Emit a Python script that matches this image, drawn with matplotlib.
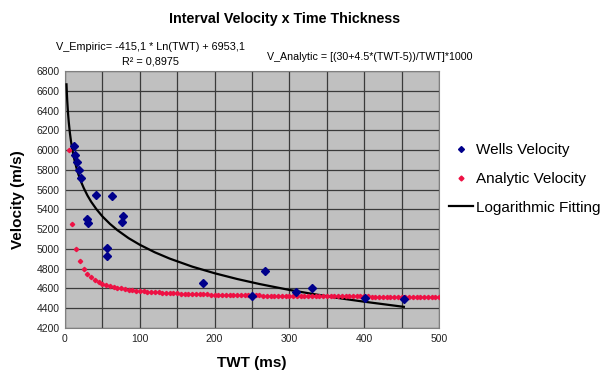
import numpy as np
import matplotlib.pyplot as plt
from matplotlib.lines import Line2D

plt.rcParams['font.family'] = ['Liberation Sans', 'DejaVu Sans']

# wells data (TWT ms, velocity m/s)
wells_twt = [12.0, 13.4, 15.6, 18.7, 21.0, 29.4, 31.2, 41.4, 56.0, 56.5, 62.4,
             75.8, 78.0, 185, 250, 267, 309, 330, 401, 453]
wells_vel = [6041, 5950, 5882, 5798, 5714, 5303, 5259, 5545, 5005, 4928, 5535,
             5269, 5336, 4658, 4524, 4780, 4561, 4608, 4500, 4490]

# analytic velocity, TWT = 5..500 step 5
analytic_twt = list(range(5, 505, 5))
analytic_vel = [6000, 5250, 5000, 4875, 4800, 4750, 4714, 4688, 4667, 4650,
                4636, 4625, 4615, 4607, 4600, 4594, 4588, 4583, 4579, 4575,
                4571, 4568, 4565, 4563, 4560, 4558, 4556, 4554, 4552, 4550,
                4548, 4547, 4545, 4544, 4543, 4542, 4541, 4539, 4538, 4538,
                4537, 4536, 4535, 4534, 4533, 4533, 4532, 4531, 4531, 4530,
                4529, 4529, 4528, 4528, 4527, 4527, 4526, 4526, 4525, 4525,
                4525, 4524, 4524, 4523, 4523, 4523, 4522, 4522, 4522, 4521,
                4521, 4521, 4521, 4520, 4520, 4520, 4519, 4519, 4519, 4519,
                4519, 4518, 4518, 4518, 4518, 4517, 4517, 4517, 4517, 4517,
                4516, 4516, 4516, 4516, 4516, 4516, 4515, 4515, 4515, 4515]

# logarithmic trendline
fit_twt = [2, 2.5, 3, 4, 5, 6.5, 8, 10, 12, 15, 18, 22, 25, 30, 35, 42, 50, 60,
           70, 85, 100, 120, 140, 170, 200, 230, 260, 300, 330, 370, 400, 453]
fit_vel = [6665, 6573, 6497, 6378, 6285, 6176, 6090, 5997, 5922, 5829, 5753,
           5670, 5617, 5541, 5477, 5402, 5329, 5254, 5190, 5109, 5042, 4966,
           4902, 4821, 4754, 4696, 4645, 4585, 4546, 4498, 4466, 4414]

fig = plt.figure(figsize=(6.04, 3.70), dpi=100)
ax = fig.add_axes([65/604, 42/370, 374/604, 257/370])
ax.set_facecolor('#c0c0c0')

ax.plot(fit_twt, fit_vel, color='black', lw=1.6, zorder=3)
ax.plot(analytic_twt, analytic_vel, ls='none', marker='D', ms=2.2,
        color='#ee1144', mec='#ee1144', zorder=4)
ax.plot(wells_twt, wells_vel, ls='none', marker='D', ms=3.6,
        color='#00008b', zorder=5)

ax.set_xlim(0, 500)
ax.set_ylim(4200, 6800)
ax.set_xticks(np.arange(0, 501, 50))
ax.set_yticks(np.arange(4200, 6801, 200))
ax.set_xticklabels([str(v) if v % 100 == 0 else '' for v in range(0, 501, 50)])
ax.grid(True, color='#3a3a3a', lw=0.9)
ax.set_axisbelow(True)
ax.tick_params(length=0, labelsize=7.5, colors='#222222', pad=4)
for s in ax.spines.values():
    s.set_color('#808080')
    s.set_linewidth(0.8)

ax.set_xlabel('TWT (ms)', fontsize=11, fontweight='bold', labelpad=9)
ax.set_ylabel('Velocity (m/s)', fontsize=11, fontweight='bold', labelpad=8)

fig.text(285/604, 1 - 19/370, 'Interval Velocity x Time Thickness',
         ha='center', va='center', fontsize=10.3, fontweight='bold')
fig.text(150/604, 1 - 47/370, 'V_Empiric= -415,1 * Ln(TWT) + 6953,1',
         ha='center', va='center', fontsize=7.8)
fig.text(150/604, 1 - 62/370, 'R\u00b2 = 0,8975',
         ha='center', va='center', fontsize=7.8)
fig.text(370/604, 1 - 57/370, 'V_Analytic = [(30+4.5*(TWT-5))/TWT]*1000',
         ha='center', va='center', fontsize=7.7)

handles = [Line2D([], [], ls='none', marker='D', ms=3, color='#00008b'),
           Line2D([], [], ls='none', marker='D', ms=2.5, color='#ee1144'),
           Line2D([], [], color='black', lw=1.6)]
fig.legend(handles, ['Wells Velocity', 'Analytic Velocity', 'Logarithmic Fitting'],
           loc='center left', bbox_to_anchor=(441/604, 1 - 179/370),
           frameon=False, fontsize=11, handlelength=1.6, handletextpad=0.2,
           labelspacing=0.95, borderpad=0)

fig.savefig('out.png', dpi=100)
